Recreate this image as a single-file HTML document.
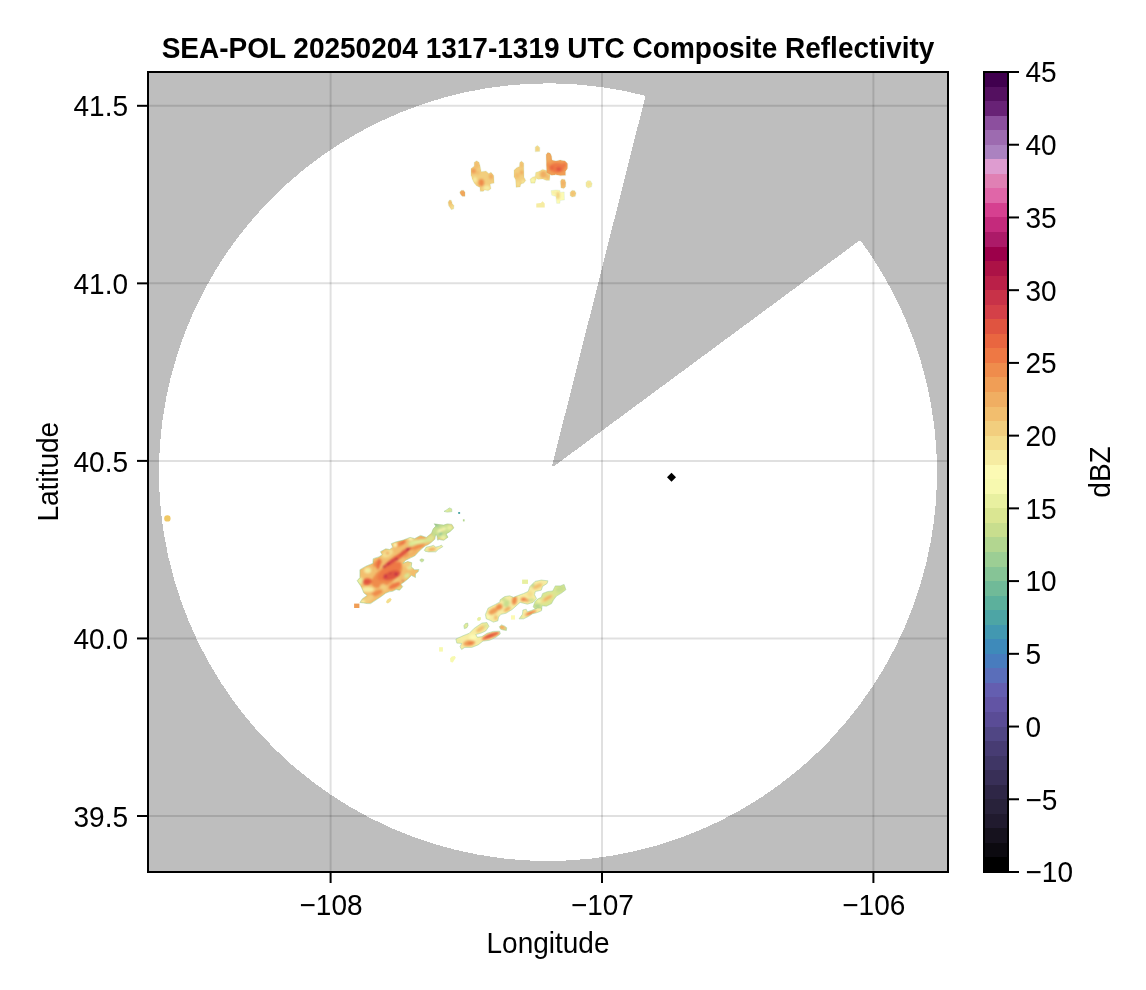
<!DOCTYPE html>
<html lang="en"><head><meta charset="utf-8">
<title>SEA-POL 20250204 1317-1319 UTC Composite Reflectivity</title>
<style>
html,body{margin:0;padding:0;background:#fff;}
body{width:1146px;height:990px;overflow:hidden;}
svg{display:block;}
text{font-family:"Liberation Sans", Arial, Helvetica, sans-serif;font-size:28px;fill:#000;}
.ttl{font-weight:bold;}
</style></head><body>
<svg width="1146" height="990" viewBox="0 0 1146 990">
<rect x="0" y="0" width="1146" height="990" fill="#FFFFFF"/>
<defs><clipPath id="axclip"><rect x="148" y="72" width="800" height="800"/></clipPath>
<filter id="b1" x="-30%" y="-30%" width="160%" height="160%"><feGaussianBlur stdDeviation="0.9"/></filter>
<filter id="b2" x="-30%" y="-30%" width="160%" height="160%"><feGaussianBlur stdDeviation="0.9"/></filter>
</defs>
<rect x="148" y="72" width="800" height="800" fill="#BEBEBE"/>
<g clip-path="url(#axclip)">
<path shape-rendering="crispEdges" fill="#FFFFFF" d="M860.09 240.12 A389 388.8 0 1 1 645.53 95.82 L552 466 L554.2 466 Z"/>
<g stroke="#000" stroke-opacity="0.12" stroke-width="2">
<line x1="330.6" y1="72" x2="330.6" y2="872"/>
<line x1="602" y1="72" x2="602" y2="872"/>
<line x1="873.4" y1="72" x2="873.4" y2="872"/>
<line x1="148" y1="105.8" x2="948" y2="105.8"/>
<line x1="148" y1="283.35" x2="948" y2="283.35"/>
<line x1="148" y1="460.9" x2="948" y2="460.9"/>
<line x1="148" y1="638.45" x2="948" y2="638.45"/>
<line x1="148" y1="816" x2="948" y2="816"/>
</g>
<g>
<clipPath id="e1"><polygon points="448.1,202 449.5,199.9 451.4,200.3 452.3,203.4 454,205.5 453.7,209 451.2,209.7 449.8,207.6 448.4,205.5"/></clipPath>
<g clip-path="url(#e1)">
<polygon points="448.1,202 449.5,199.9 451.4,200.3 452.3,203.4 454,205.5 453.7,209 451.2,209.7 449.8,207.6 448.4,205.5" fill="#F2CE7E"/>
<g filter="url(#b1)">
<ellipse cx="449.8" cy="202.7" rx="1.1" ry="1.4" fill="#F0AE62"/>
<ellipse cx="452.6" cy="207.6" rx="1.4" ry="1.4" fill="#F6ECA2"/>
</g></g>
<polygon points="448.1,202 449.5,199.9 451.4,200.3 452.3,203.4 454,205.5 453.7,209 451.2,209.7 449.8,207.6 448.4,205.5" fill="none" stroke="#9CCB8E" stroke-opacity="0.2" stroke-width="0.9" stroke-linejoin="round"/>
<clipPath id="e2"><polygon points="459.5,192.2 461.2,190.3 463.7,190.3 465.1,192.2 465.1,196.4 462.3,196.4 460.7,194.8"/></clipPath>
<g clip-path="url(#e2)">
<polygon points="459.5,192.2 461.2,190.3 463.7,190.3 465.1,192.2 465.1,196.4 462.3,196.4 460.7,194.8" fill="#F0AE62"/>
<g filter="url(#b1)">
<ellipse cx="463" cy="193.6" rx="1.4" ry="2" fill="#F09E56"/>
</g></g>
<polygon points="459.5,192.2 461.2,190.3 463.7,190.3 465.1,192.2 465.1,196.4 462.3,196.4 460.7,194.8" fill="none" stroke="#9CCB8E" stroke-opacity="0.2" stroke-width="0.9" stroke-linejoin="round"/>
<clipPath id="e3"><polygon points="471,168.5 474.2,166 474.2,162.2 476.6,160.7 479.1,162.2 480.5,167.1 481.2,171.6 486.1,171 488.9,173.4 491,172 493.8,175.5 494.2,183.2 490.3,184.1 491,188.8 488.2,190.8 484.7,190.1 483.3,191.5 480.2,191.5 479.8,187.4 476.6,186 474.2,183.2 472.4,179.7 471,175.5"/></clipPath>
<g clip-path="url(#e3)">
<polygon points="471,168.5 474.2,166 474.2,162.2 476.6,160.7 479.1,162.2 480.5,167.1 481.2,171.6 486.1,171 488.9,173.4 491,172 493.8,175.5 494.2,183.2 490.3,184.1 491,188.8 488.2,190.8 484.7,190.1 483.3,191.5 480.2,191.5 479.8,187.4 476.6,186 474.2,183.2 472.4,179.7 471,175.5" fill="#F2CE7E"/>
<g filter="url(#b1)">
<ellipse cx="476.6" cy="165" rx="2.5" ry="3.5" fill="#F2BE6E"/>
<ellipse cx="473.5" cy="171" rx="2.5" ry="2.8" fill="#F09E56"/>
<ellipse cx="477.7" cy="172.7" rx="2" ry="2" fill="#F2BE6E"/>
<ellipse cx="481.3" cy="182.7" rx="2.8" ry="3.6" fill="#EF8C4C"/>
<ellipse cx="491.1" cy="176.6" rx="2.2" ry="2.8" fill="#F0AE62"/>
<ellipse cx="486.8" cy="188.1" rx="3.5" ry="2.5" fill="#F6ECA2"/>
<ellipse cx="474.9" cy="179.7" rx="2" ry="2.8" fill="#F6ECA2"/>
</g></g>
<polygon points="471,168.5 474.2,166 474.2,162.2 476.6,160.7 479.1,162.2 480.5,167.1 481.2,171.6 486.1,171 488.9,173.4 491,172 493.8,175.5 494.2,183.2 490.3,184.1 491,188.8 488.2,190.8 484.7,190.1 483.3,191.5 480.2,191.5 479.8,187.4 476.6,186 474.2,183.2 472.4,179.7 471,175.5" fill="none" stroke="#9CCB8E" stroke-opacity="0.2" stroke-width="0.9" stroke-linejoin="round"/>
<clipPath id="e4"><polygon points="514,169.9 516.8,167.4 519.3,166.4 519.6,162.6 521.4,161 523.8,162.9 524,176.9 525.9,180.4 523.8,183.2 521,183.9 520.3,186.9 516.1,187.4 515.4,179.7 514,176.9"/></clipPath>
<g clip-path="url(#e4)">
<polygon points="514,169.9 516.8,167.4 519.3,166.4 519.6,162.6 521.4,161 523.8,162.9 524,176.9 525.9,180.4 523.8,183.2 521,183.9 520.3,186.9 516.1,187.4 515.4,179.7 514,176.9" fill="#F2CE7E"/>
<g filter="url(#b1)">
<ellipse cx="521.7" cy="165" rx="1.7" ry="2.8" fill="#F2BE6E"/>
<ellipse cx="521.7" cy="172.4" rx="2" ry="2.2" fill="#F0AE62"/>
<ellipse cx="517.1" cy="175.5" rx="2.5" ry="2.8" fill="#F2BE6E"/>
<ellipse cx="518.2" cy="183.9" rx="1.7" ry="2.8" fill="#F4DE8E"/>
<ellipse cx="523.1" cy="181.8" rx="1.7" ry="1.7" fill="#F6ECA2"/>
</g></g>
<polygon points="514,169.9 516.8,167.4 519.3,166.4 519.6,162.6 521.4,161 523.8,162.9 524,176.9 525.9,180.4 523.8,183.2 521,183.9 520.3,186.9 516.1,187.4 515.4,179.7 514,176.9" fill="none" stroke="#9CCB8E" stroke-opacity="0.2" stroke-width="0.9" stroke-linejoin="round"/>
<clipPath id="e5"><polygon points="535.2,146.9 537.5,145.3 539.8,147.6 539.8,151.5 535.2,151.8"/></clipPath>
<g clip-path="url(#e5)">
<polygon points="535.2,146.9 537.5,145.3 539.8,147.6 539.8,151.5 535.2,151.8" fill="#F4DE8E"/>
<g filter="url(#b1)">
<ellipse cx="537.5" cy="149" rx="1.7" ry="2" fill="#F2CE7E"/>
</g></g>
<polygon points="535.2,146.9 537.5,145.3 539.8,147.6 539.8,151.5 535.2,151.8" fill="none" stroke="#9CCB8E" stroke-opacity="0.2" stroke-width="0.9" stroke-linejoin="round"/>
<clipPath id="e6"><polygon points="530.1,179 532.8,176.9 535.2,176.2 535.6,172.4 539.1,171.3 542.6,169.2 546.8,170.6 550.3,172.7 549.6,180.4 546.1,180.4 542.6,179 538.4,179.4 536.3,178.6 534.9,183.2 530.8,183.2"/></clipPath>
<g clip-path="url(#e6)">
<polygon points="530.1,179 532.8,176.9 535.2,176.2 535.6,172.4 539.1,171.3 542.6,169.2 546.8,170.6 550.3,172.7 549.6,180.4 546.1,180.4 542.6,179 538.4,179.4 536.3,178.6 534.9,183.2 530.8,183.2" fill="#F4DE8E"/>
<g filter="url(#b1)">
<ellipse cx="543.3" cy="174.4" rx="3.4" ry="3.6" fill="#F0AE62"/>
<ellipse cx="537.7" cy="174.4" rx="2.2" ry="2.5" fill="#F4DE8E"/>
<ellipse cx="532.8" cy="180.4" rx="2.5" ry="2.5" fill="#F7F9AF"/>
<ellipse cx="547.8" cy="176.9" rx="2" ry="3.1" fill="#F2BE6E"/>
</g></g>
<polygon points="530.1,179 532.8,176.9 535.2,176.2 535.6,172.4 539.1,171.3 542.6,169.2 546.8,170.6 550.3,172.7 549.6,180.4 546.1,180.4 542.6,179 538.4,179.4 536.3,178.6 534.9,183.2 530.8,183.2" fill="none" stroke="#9CCB8E" stroke-opacity="0.2" stroke-width="0.9" stroke-linejoin="round"/>
<clipPath id="e7"><polygon points="546.1,154.5 547.8,152.3 550.3,153.2 551.7,155.9 552,159.9 555.9,160.8 560.1,160.1 565,160.8 567.7,163.6 567.7,168.5 565.7,171.3 565.7,175.5 560.1,175.8 555.9,174.8 551.7,175.5 546.4,172.7"/></clipPath>
<g clip-path="url(#e7)">
<polygon points="546.1,154.5 547.8,152.3 550.3,153.2 551.7,155.9 552,159.9 555.9,160.8 560.1,160.1 565,160.8 567.7,163.6 567.7,168.5 565.7,171.3 565.7,175.5 560.1,175.8 555.9,174.8 551.7,175.5 546.4,172.7" fill="#F09E56"/>
<g filter="url(#b1)">
<ellipse cx="548.6" cy="157.3" rx="2" ry="4.2" fill="#F0AE62"/>
<ellipse cx="557" cy="167.8" rx="7.7" ry="5" fill="#EE7844"/>
<ellipse cx="558.7" cy="169.2" rx="2.5" ry="2.1" fill="#E05440"/>
<ellipse cx="551.7" cy="167.8" rx="2.2" ry="2" fill="#E96640"/>
<ellipse cx="564.3" cy="165" rx="2.2" ry="2.5" fill="#EE7844"/>
<ellipse cx="548.2" cy="165" rx="1.4" ry="2" fill="#EF8C4C"/>
</g></g>
<polygon points="546.1,154.5 547.8,152.3 550.3,153.2 551.7,155.9 552,159.9 555.9,160.8 560.1,160.1 565,160.8 567.7,163.6 567.7,168.5 565.7,171.3 565.7,175.5 560.1,175.8 555.9,174.8 551.7,175.5 546.4,172.7" fill="none" stroke="#9CCB8E" stroke-opacity="0.2" stroke-width="0.9" stroke-linejoin="round"/>
<clipPath id="e8"><polygon points="560.3,181.1 561.7,179.1 565,179.4 565.9,182.5 565.7,186.9 563.6,188.8 560.8,187.8"/></clipPath>
<g clip-path="url(#e8)">
<polygon points="560.3,181.1 561.7,179.1 565,179.4 565.9,182.5 565.7,186.9 563.6,188.8 560.8,187.8" fill="#F2BE6E"/>
<g filter="url(#b1)">
<ellipse cx="563.1" cy="183.2" rx="1.7" ry="2.2" fill="#F0AE62"/>
</g></g>
<polygon points="560.3,181.1 561.7,179.1 565,179.4 565.9,182.5 565.7,186.9 563.6,188.8 560.8,187.8" fill="none" stroke="#9CCB8E" stroke-opacity="0.2" stroke-width="0.9" stroke-linejoin="round"/>
<clipPath id="e9"><polygon points="551,190.6 555.9,190 559.8,190.3 560.3,192.2 564.3,192 564.5,199.9 560.3,200.6 559.8,203.4 556.6,203.4 555.9,196.4 551.7,195.3"/></clipPath>
<g clip-path="url(#e9)">
<polygon points="551,190.6 555.9,190 559.8,190.3 560.3,192.2 564.3,192 564.5,199.9 560.3,200.6 559.8,203.4 556.6,203.4 555.9,196.4 551.7,195.3" fill="#FCFAB4"/>
<g filter="url(#b1)">
<ellipse cx="558" cy="195.3" rx="1.7" ry="3.9" fill="#F2CE7E"/>
<ellipse cx="553.8" cy="192.5" rx="2" ry="1.4" fill="#F6ECA2"/>
</g></g>
<polygon points="551,190.6 555.9,190 559.8,190.3 560.3,192.2 564.3,192 564.5,199.9 560.3,200.6 559.8,203.4 556.6,203.4 555.9,196.4 551.7,195.3" fill="none" stroke="#9CCB8E" stroke-opacity="0.2" stroke-width="0.9" stroke-linejoin="round"/>
<clipPath id="e10"><polygon points="570.1,192.2 571.9,190.3 574.7,190.6 576.1,192.9 575.4,196.4 571.9,197.1 570.1,195.7"/></clipPath>
<g clip-path="url(#e10)">
<polygon points="570.1,192.2 571.9,190.3 574.7,190.6 576.1,192.9 575.4,196.4 571.9,197.1 570.1,195.7" fill="#F2CE7E"/>
<g filter="url(#b1)">
<ellipse cx="572.9" cy="193.6" rx="1.7" ry="2" fill="#F2BE6E"/>
</g></g>
<polygon points="570.1,192.2 571.9,190.3 574.7,190.6 576.1,192.9 575.4,196.4 571.9,197.1 570.1,195.7" fill="none" stroke="#9CCB8E" stroke-opacity="0.2" stroke-width="0.9" stroke-linejoin="round"/>
<clipPath id="e11"><polygon points="585.9,182.5 587.7,180.4 590.5,180.8 592.2,183.6 591.5,186.9 588,188.1 586,186.4"/></clipPath>
<g clip-path="url(#e11)">
<polygon points="585.9,182.5 587.7,180.4 590.5,180.8 592.2,183.6 591.5,186.9 588,188.1 586,186.4" fill="#F6ECA2"/>
<g filter="url(#b1)">
<ellipse cx="589.1" cy="184.1" rx="1.7" ry="2" fill="#F4DE8E"/>
</g></g>
<polygon points="585.9,182.5 587.7,180.4 590.5,180.8 592.2,183.6 591.5,186.9 588,188.1 586,186.4" fill="none" stroke="#9CCB8E" stroke-opacity="0.2" stroke-width="0.9" stroke-linejoin="round"/>
<polygon points="536.3,203.4 540.8,203.1 542.6,201.3 544.7,203.4 544.7,207.6 536.3,207.6" fill="#F6ECA2"/>
<rect x="354.1" y="603.6" width="5.3" height="4.4" fill="#F09E56"/>
<clipPath id="e12"><polygon points="359.9,602.5 362.4,598.7 367.1,595.5 363.8,592.9 362.4,589.5 360.7,586 357.2,580.7 359.9,577.6 359.9,569.7 365.9,566.2 372.9,563.3 373.2,558.7 378.7,556.9 382.2,554.8 380.4,551.7 385.7,548.8 389.7,549.5 392.6,547.2 391.2,543.7 396.1,541.8 403.1,540.1 410.1,537.4 414.7,538.6 420.5,535.4 426.3,537.4 431.6,533.1 433.1,529 435.8,526.1 434.2,523.8 439.1,524.6 443.7,525.1 447.2,523.9 451.9,524.4 453.9,527.9 450.1,531.6 446.1,533.9 448,537.2 443.7,540.3 439.3,539.5 437.6,540.1 437,535.5 435.6,534.7 434.8,539.3 431.2,542.5 428.6,544.4 425.2,546 421.7,548.8 418.2,552.3 414.7,556 410.1,558.1 405.4,560.4 402.9,563.3 407.7,561.6 411.8,562.7 411.2,566.8 414.7,569.7 418.9,569.5 418.4,571.6 415.5,573.9 415.5,577.6 411.5,575.5 407.7,579.2 404.2,582 401,584.3 402.7,586.7 399.6,590.2 396.1,589.5 392.6,591.3 389.1,591.8 385.7,593.2 381,596.7 377.5,599 374,601.3 370.6,603.6 367.1,603.6 363.6,602.9"/></clipPath>
<g clip-path="url(#e12)">
<polygon points="359.9,602.5 362.4,598.7 367.1,595.5 363.8,592.9 362.4,589.5 360.7,586 357.2,580.7 359.9,577.6 359.9,569.7 365.9,566.2 372.9,563.3 373.2,558.7 378.7,556.9 382.2,554.8 380.4,551.7 385.7,548.8 389.7,549.5 392.6,547.2 391.2,543.7 396.1,541.8 403.1,540.1 410.1,537.4 414.7,538.6 420.5,535.4 426.3,537.4 431.6,533.1 433.1,529 435.8,526.1 434.2,523.8 439.1,524.6 443.7,525.1 447.2,523.9 451.9,524.4 453.9,527.9 450.1,531.6 446.1,533.9 448,537.2 443.7,540.3 439.3,539.5 437.6,540.1 437,535.5 435.6,534.7 434.8,539.3 431.2,542.5 428.6,544.4 425.2,546 421.7,548.8 418.2,552.3 414.7,556 410.1,558.1 405.4,560.4 402.9,563.3 407.7,561.6 411.8,562.7 411.2,566.8 414.7,569.7 418.9,569.5 418.4,571.6 415.5,573.9 415.5,577.6 411.5,575.5 407.7,579.2 404.2,582 401,584.3 402.7,586.7 399.6,590.2 396.1,589.5 392.6,591.3 389.1,591.8 385.7,593.2 381,596.7 377.5,599 374,601.3 370.6,603.6 367.1,603.6 363.6,602.9" fill="#F2BE6E"/>
<g filter="url(#b2)">
<ellipse cx="400.8" cy="543.2" rx="5.6" ry="1.4" transform="rotate(-30 400.8 543.2)" fill="#EE7844"/>
<ellipse cx="395.8" cy="548.8" rx="1.9" ry="4.9" transform="rotate(15 395.8 548.8)" fill="#F4DE8E"/>
<ellipse cx="413.5" cy="551.1" rx="7" ry="2.3" transform="rotate(-38 413.5 551.1)" fill="#F2BE6E"/>
<ellipse cx="419.4" cy="545.9" rx="3.5" ry="1.4" transform="rotate(-35 419.4 545.9)" fill="#EF8C4C"/>
<ellipse cx="416.4" cy="542.4" rx="7.6" ry="1.9" transform="rotate(-25 416.4 542.4)" fill="#DAE692"/>
<ellipse cx="429.2" cy="539.5" rx="3.3" ry="1.9" transform="rotate(-40 429.2 539.5)" fill="#C8DE8E"/>
<ellipse cx="424" cy="537.4" rx="2.6" ry="1.2" transform="rotate(-20 424 537.4)" fill="#F09E56"/>
<ellipse cx="410.1" cy="565.1" rx="3.3" ry="4.6" transform="rotate(20 410.1 565.1)" fill="#F6ECA2"/>
<ellipse cx="407.7" cy="549.7" rx="4.6" ry="1.6" transform="rotate(-34 407.7 549.7)" fill="#E05440"/>
<ellipse cx="407.7" cy="549.7" rx="1.6" ry="1.2" transform="rotate(-34 407.7 549.7)" fill="#BA2048"/>
<ellipse cx="442.6" cy="530.8" rx="11.6" ry="8.1" fill="#C8DE8E"/>
<ellipse cx="437.9" cy="526.7" rx="3.5" ry="2.3" fill="#9CCE94"/>
<ellipse cx="446.1" cy="536" rx="2.8" ry="1.6" fill="#B2D690"/>
<ellipse cx="441.4" cy="529.3" rx="5.2" ry="2.1" transform="rotate(-25 441.4 529.3)" fill="#F6ECA2"/>
<ellipse cx="436.8" cy="525.1" rx="1.9" ry="1.2" fill="#86C496"/>
<ellipse cx="440.5" cy="534.9" rx="1.4" ry="2.3" fill="#9CCE94"/>
<ellipse cx="450.1" cy="527.3" rx="2.6" ry="2.6" fill="#F7F9AF"/>
<ellipse cx="433.9" cy="533.1" rx="2.1" ry="3.5" transform="rotate(20 433.9 533.1)" fill="#B2D690"/>
<ellipse cx="443.7" cy="538.9" rx="2.6" ry="1.4" fill="#E8F0A0"/>
<ellipse cx="386.8" cy="575.4" rx="17.7" ry="8.5" transform="rotate(-35 386.8 575.4)" fill="#EF8C4C"/>
<ellipse cx="389.6" cy="571.1" rx="14.1" ry="5.7" transform="rotate(-35 389.6 571.1)" fill="#EE7844"/>
<ellipse cx="359.9" cy="581" rx="3.2" ry="3.5" fill="#E8F0A0"/>
<ellipse cx="367.7" cy="570.4" rx="3.5" ry="2.8" fill="#F6ECA2"/>
<ellipse cx="369.2" cy="570.3" rx="1.6" ry="1.3" fill="#E8F0A0"/>
<ellipse cx="362" cy="571.8" rx="2.1" ry="2.1" fill="#F2BE6E"/>
<ellipse cx="367.7" cy="589.5" rx="6.4" ry="2.8" fill="#F6ECA2"/>
<ellipse cx="367.3" cy="581.7" rx="4.9" ry="3.5" transform="rotate(-10 367.3 581.7)" fill="#E96640"/>
<ellipse cx="367" cy="581.7" rx="2.8" ry="2.1" fill="#E05440"/>
<ellipse cx="377.6" cy="563.3" rx="4.9" ry="2.8" transform="rotate(-35 377.6 563.3)" fill="#EF8C4C"/>
<ellipse cx="378.6" cy="564" rx="1.6" ry="5.7" transform="rotate(10 378.6 564)" fill="#E96640"/>
<ellipse cx="387.5" cy="553.4" rx="6.4" ry="3.5" transform="rotate(-30 387.5 553.4)" fill="#F4DE8E"/>
<ellipse cx="387.5" cy="553.1" rx="1.6" ry="1.4" fill="#F09E56"/>
<ellipse cx="396" cy="549.9" rx="3.5" ry="3.5" fill="#F2BE6E"/>
<ellipse cx="396" cy="558.5" rx="16.3" ry="2.5" transform="rotate(-35 396 558.5)" fill="#E96640"/>
<ellipse cx="390.3" cy="562.8" rx="8.5" ry="1.3" transform="rotate(-35 390.3 562.8)" fill="#D44048"/>
<ellipse cx="383.9" cy="566.9" rx="1.1" ry="1" fill="#AC1246"/>
<ellipse cx="388.5" cy="563.7" rx="1.1" ry="1" fill="#AC1246"/>
<ellipse cx="392.4" cy="561.2" rx="1" ry="0.7" transform="rotate(-35 392.4 561.2)" fill="#C83248"/>
<ellipse cx="396.7" cy="558.9" rx="1.3" ry="1" fill="#AC1246"/>
<ellipse cx="408" cy="549.2" rx="1.4" ry="1.1" fill="#AC1246"/>
<ellipse cx="402.7" cy="553.4" rx="4.2" ry="0.8" transform="rotate(-35 402.7 553.4)" fill="#D44048"/>
<ellipse cx="391.7" cy="575.4" rx="9.2" ry="4.2" transform="rotate(-20 391.7 575.4)" fill="#E05440"/>
<ellipse cx="396" cy="574.1" rx="1.4" ry="1.2" fill="#AC1246"/>
<ellipse cx="390.3" cy="573.2" rx="1" ry="0.8" fill="#BA2048"/>
<ellipse cx="385.4" cy="576.1" rx="1.6" ry="1.8" transform="rotate(20 385.4 576.1)" fill="#C83248"/>
<ellipse cx="403" cy="581" rx="0.8" ry="0.7" fill="#AC1246"/>
<ellipse cx="383.2" cy="587.4" rx="3.5" ry="3.5" fill="#F2CE7E"/>
<ellipse cx="396" cy="580.3" rx="3.5" ry="1.4" transform="rotate(-35 396 580.3)" fill="#F2CE7E"/>
<ellipse cx="394.5" cy="585.6" rx="6.4" ry="2.5" transform="rotate(-25 394.5 585.6)" fill="#EE7844"/>
<ellipse cx="399.5" cy="588.8" rx="3.2" ry="1.1" transform="rotate(-20 399.5 588.8)" fill="#DAE692"/>
<ellipse cx="406.9" cy="575.7" rx="3.2" ry="2.1" transform="rotate(-35 406.9 575.7)" fill="#DAE692"/>
<ellipse cx="410.1" cy="566.2" rx="2.1" ry="2" fill="#F7F9AF"/>
<ellipse cx="408.7" cy="561.2" rx="2.8" ry="2.1" fill="#F2CE7E"/>
<ellipse cx="413.6" cy="572.5" rx="1.7" ry="1.4" fill="#F2BE6E"/>
<ellipse cx="376.9" cy="593" rx="6.4" ry="2.5" transform="rotate(-25 376.9 593)" fill="#EF8C4C"/>
<ellipse cx="367.7" cy="599.4" rx="7.1" ry="2.8" transform="rotate(-35 367.7 599.4)" fill="#F2CE7E"/>
<ellipse cx="362.7" cy="601.5" rx="2.1" ry="1.4" fill="#F7F9AF"/>
<ellipse cx="399.5" cy="544.2" rx="5.7" ry="2.1" transform="rotate(-25 399.5 544.2)" fill="#EF8C4C"/>
<ellipse cx="403" cy="542.8" rx="2.8" ry="1" transform="rotate(-25 403 542.8)" fill="#E96640"/>
<ellipse cx="395.3" cy="544.9" rx="2.1" ry="2.1" fill="#FCFAB4"/>
<ellipse cx="413.6" cy="543.5" rx="5.7" ry="1.6" transform="rotate(-25 413.6 543.5)" fill="#DAE692"/>
<ellipse cx="406.6" cy="555.6" rx="3.5" ry="1.4" transform="rotate(-35 406.6 555.6)" fill="#F09E56"/>
<ellipse cx="413.6" cy="552.7" rx="4.2" ry="1.4" transform="rotate(-35 413.6 552.7)" fill="#F0AE62"/>
<ellipse cx="417.7" cy="546.7" rx="7.8" ry="2.1" transform="rotate(-20 417.7 546.7)" fill="#EF8C4C"/>
<ellipse cx="404.2" cy="552.3" rx="4.2" ry="2.1" transform="rotate(-35 404.2 552.3)" fill="#E05440"/>
<ellipse cx="407.8" cy="549.5" rx="1.6" ry="1.1" fill="#AC1246"/>
<ellipse cx="420.5" cy="541.4" rx="12.7" ry="2.3" transform="rotate(-8 420.5 541.4)" fill="#DAE692"/>
<ellipse cx="417.7" cy="541.9" rx="7.1" ry="1" transform="rotate(-8 417.7 541.9)" fill="#E8F0A0"/>
<ellipse cx="420.5" cy="538" rx="4.2" ry="1.1" transform="rotate(-10 420.5 538)" fill="#F09E56"/>
<ellipse cx="410.6" cy="538.7" rx="2.8" ry="1.7" fill="#FCFAB4"/>
<ellipse cx="430.4" cy="538.5" rx="4.2" ry="3.2" transform="rotate(-40 430.4 538.5)" fill="#DAE692"/>
<ellipse cx="431.1" cy="536.8" rx="0.7" ry="1" fill="#F2CE7E"/>
<ellipse cx="442.4" cy="529.7" rx="10.6" ry="6.4" transform="rotate(-15 442.4 529.7)" fill="#C8DE8E"/>
<ellipse cx="441.7" cy="530.1" rx="4.9" ry="1.4" transform="rotate(-25 441.7 530.1)" fill="#FCFAB4"/>
<ellipse cx="442.4" cy="530.3" rx="1.3" ry="0.6" transform="rotate(-20 442.4 530.3)" fill="#F2CE7E"/>
<ellipse cx="437.1" cy="525.6" rx="2.8" ry="1.4" fill="#9CCE94"/>
<ellipse cx="435.4" cy="524" rx="1.4" ry="1" fill="#5CB09C"/>
<ellipse cx="440.7" cy="534.1" rx="1.8" ry="1.8" fill="#86C496"/>
<ellipse cx="449.5" cy="527.7" rx="2.5" ry="2.5" fill="#E8F0A0"/>
<ellipse cx="443.1" cy="537.1" rx="3.2" ry="2.1" fill="#E8F0A0"/>
<ellipse cx="407.1" cy="563.6" rx="4.2" ry="3.5" fill="#F2CE7E"/>
<ellipse cx="409.9" cy="567.5" rx="1.4" ry="2.1" fill="#DAE692"/>
</g></g>
<polygon points="359.9,602.5 362.4,598.7 367.1,595.5 363.8,592.9 362.4,589.5 360.7,586 357.2,580.7 359.9,577.6 359.9,569.7 365.9,566.2 372.9,563.3 373.2,558.7 378.7,556.9 382.2,554.8 380.4,551.7 385.7,548.8 389.7,549.5 392.6,547.2 391.2,543.7 396.1,541.8 403.1,540.1 410.1,537.4 414.7,538.6 420.5,535.4 426.3,537.4 431.6,533.1 433.1,529 435.8,526.1 434.2,523.8 439.1,524.6 443.7,525.1 447.2,523.9 451.9,524.4 453.9,527.9 450.1,531.6 446.1,533.9 448,537.2 443.7,540.3 439.3,539.5 437.6,540.1 437,535.5 435.6,534.7 434.8,539.3 431.2,542.5 428.6,544.4 425.2,546 421.7,548.8 418.2,552.3 414.7,556 410.1,558.1 405.4,560.4 402.9,563.3 407.7,561.6 411.8,562.7 411.2,566.8 414.7,569.7 418.9,569.5 418.4,571.6 415.5,573.9 415.5,577.6 411.5,575.5 407.7,579.2 404.2,582 401,584.3 402.7,586.7 399.6,590.2 396.1,589.5 392.6,591.3 389.1,591.8 385.7,593.2 381,596.7 377.5,599 374,601.3 370.6,603.6 367.1,603.6 363.6,602.9" fill="none" stroke="#9CCB8E" stroke-opacity="0.6" stroke-width="0.9" stroke-linejoin="round"/>
<clipPath id="e13"><polygon points="444,511.4 447.2,509.5 449.3,507.9 451.6,508.8 451.9,511.6 447.2,512.1"/></clipPath>
<g clip-path="url(#e13)">
<polygon points="444,511.4 447.2,509.5 449.3,507.9 451.6,508.8 451.9,511.6 447.2,512.1" fill="#E8F0A0"/>
<g filter="url(#b1)">
<ellipse cx="449.6" cy="510.2" rx="1.6" ry="1.2" fill="#C8DE8E"/>
</g></g>
<polygon points="444,511.4 447.2,509.5 449.3,507.9 451.6,508.8 451.9,511.6 447.2,512.1" fill="none" stroke="#9CCB8E" stroke-opacity="0.6" stroke-width="0.9" stroke-linejoin="round"/>
<rect x="458.2" y="512" width="1.9" height="1.9" fill="#4DA5A5"/>
<rect x="462.9" y="519.3" width="1.7" height="2.1" fill="#B2D690"/>
<clipPath id="e14"><polygon points="424.3,550.2 426.3,547.1 431,546.2 433.3,545.3 435.8,547.1 439.3,546.2 441.4,545.1 442.8,546.7 438.5,549.3 435.8,551.8 428.6,551.9 425.2,551.3"/></clipPath>
<g clip-path="url(#e14)">
<polygon points="424.3,550.2 426.3,547.1 431,546.2 433.3,545.3 435.8,547.1 439.3,546.2 441.4,545.1 442.8,546.7 438.5,549.3 435.8,551.8 428.6,551.9 425.2,551.3" fill="#F6ECA2"/>
<g filter="url(#b1)">
<ellipse cx="432.1" cy="549.4" rx="3.9" ry="1.6" transform="rotate(-8 432.1 549.4)" fill="#F0AE62"/>
<ellipse cx="425.7" cy="550.2" rx="1.2" ry="1.2" fill="#DAE692"/>
</g></g>
<polygon points="424.3,550.2 426.3,547.1 431,546.2 433.3,545.3 435.8,547.1 439.3,546.2 441.4,545.1 442.8,546.7 438.5,549.3 435.8,551.8 428.6,551.9 425.2,551.3" fill="none" stroke="#9CCB8E" stroke-opacity="0.6" stroke-width="0.9" stroke-linejoin="round"/>
<clipPath id="e15"><polygon points="419.9,559.7 421.7,558.8 423.8,559.5 423.5,561.1 421.9,562 420.3,561.1"/></clipPath>
<g clip-path="url(#e15)">
<polygon points="419.9,559.7 421.7,558.8 423.8,559.5 423.5,561.1 421.9,562 420.3,561.1" fill="#C8DE8E"/>
<g filter="url(#b1)">
<ellipse cx="421.9" cy="560.3" rx="0.7" ry="0.6" fill="#FCFAB4"/>
</g></g>
<polygon points="419.9,559.7 421.7,558.8 423.8,559.5 423.5,561.1 421.9,562 420.3,561.1" fill="none" stroke="#9CCB8E" stroke-opacity="0.6" stroke-width="0.9" stroke-linejoin="round"/>
<polygon points="385.9,602.2 387.1,599.7 390.1,597.8 391.7,599.4 390.3,601.8 387.8,603.6" fill="#F4DE8E"/>
<rect x="439.1" y="647.2" width="3.8" height="4.4" fill="#F7F9AF"/>
<polygon points="450,658.6 451.8,656.5 454.8,656 455.8,657.8 454,660.5 452.8,662.4 450.5,662.1" fill="#F7F9AF"/>
<clipPath id="e16"><polygon points="455.9,639 462.9,635.8 469.2,633.3 474.3,628.2 481.9,623.1 486.9,622.5 489,626.3 485.7,631 480.6,633.3 475.8,634.5 477.4,637.3 481.9,636.6 486.9,633.3 493.3,631.4 499.6,631.2 500.3,634 495.8,637.3 489.5,640.3 483.1,641.1 478.1,644.9 471.8,647.4 464.8,647.4 461.6,649.5 460.1,646.7 461.6,643.4 456.8,643.1"/></clipPath>
<g clip-path="url(#e16)">
<polygon points="455.9,639 462.9,635.8 469.2,633.3 474.3,628.2 481.9,623.1 486.9,622.5 489,626.3 485.7,631 480.6,633.3 475.8,634.5 477.4,637.3 481.9,636.6 486.9,633.3 493.3,631.4 499.6,631.2 500.3,634 495.8,637.3 489.5,640.3 483.1,641.1 478.1,644.9 471.8,647.4 464.8,647.4 461.6,649.5 460.1,646.7 461.6,643.4 456.8,643.1" fill="#F6ECA2"/>
<g filter="url(#b1)">
<ellipse cx="469.2" cy="643.1" rx="6.1" ry="2.8" transform="rotate(-10 469.2 643.1)" fill="#F09E56"/>
<ellipse cx="470.5" cy="643.4" rx="2.8" ry="1.4" fill="#EE7844"/>
<ellipse cx="490.7" cy="635.8" rx="9.5" ry="2.2" transform="rotate(-22 490.7 635.8)" fill="#E96640"/>
<ellipse cx="489.5" cy="635.5" rx="3.8" ry="1.3" transform="rotate(-22 489.5 635.5)" fill="#E05440"/>
<ellipse cx="480.6" cy="628.8" rx="5.1" ry="2" transform="rotate(-35 480.6 628.8)" fill="#F2BE6E"/>
<ellipse cx="473" cy="637.1" rx="3.8" ry="2.8" fill="#FCFAB4"/>
<ellipse cx="458.8" cy="640.9" rx="2" ry="1.8" fill="#E8F0A0"/>
<ellipse cx="485.7" cy="625.7" rx="2.3" ry="2" fill="#DAE692"/>
</g></g>
<polygon points="455.9,639 462.9,635.8 469.2,633.3 474.3,628.2 481.9,623.1 486.9,622.5 489,626.3 485.7,631 480.6,633.3 475.8,634.5 477.4,637.3 481.9,636.6 486.9,633.3 493.3,631.4 499.6,631.2 500.3,634 495.8,637.3 489.5,640.3 483.1,641.1 478.1,644.9 471.8,647.4 464.8,647.4 461.6,649.5 460.1,646.7 461.6,643.4 456.8,643.1" fill="none" stroke="#9CCB8E" stroke-opacity="0.6" stroke-width="0.9" stroke-linejoin="round"/>
<clipPath id="e17"><polygon points="499.3,626.7 501.6,624.9 504.7,626.2 506.7,627.7 506.4,630.5 503.4,630 500.6,629.2"/></clipPath>
<g clip-path="url(#e17)">
<polygon points="499.3,626.7 501.6,624.9 504.7,626.2 506.7,627.7 506.4,630.5 503.4,630 500.6,629.2" fill="#F2CE7E"/>
<g filter="url(#b1)">
<ellipse cx="502.1" cy="627.2" rx="2" ry="1.5" fill="#F09E56"/>
<ellipse cx="505.7" cy="629.2" rx="1" ry="1.3" fill="#B2D690"/>
</g></g>
<polygon points="499.3,626.7 501.6,624.9 504.7,626.2 506.7,627.7 506.4,630.5 503.4,630 500.6,629.2" fill="none" stroke="#9CCB8E" stroke-opacity="0.6" stroke-width="0.9" stroke-linejoin="round"/>
<clipPath id="e18"><polygon points="463.9,625.7 465.4,623.6 467.7,623.1 468,625.7 466.7,627.9 464.4,628.7"/></clipPath>
<g clip-path="url(#e18)">
<polygon points="463.9,625.7 465.4,623.6 467.7,623.1 468,625.7 466.7,627.9 464.4,628.7" fill="#DAE692"/>
<g filter="url(#b1)">
<ellipse cx="466.1" cy="625.9" rx="0.9" ry="1.3" fill="#FCFAB4"/>
</g></g>
<polygon points="463.9,625.7 465.4,623.6 467.7,623.1 468,625.7 466.7,627.9 464.4,628.7" fill="none" stroke="#9CCB8E" stroke-opacity="0.6" stroke-width="0.9" stroke-linejoin="round"/>
<polygon points="477.1,618.6 478.6,617.1 480.9,617.3 480.9,619.6 479.3,620.9 477.3,620.6" fill="#E8F0A0"/>
<clipPath id="e19"><polygon points="485.4,614.5 488.2,608 495.8,604.2 500,601.9 500,599.9 504.7,596.6 509.7,595.8 513.5,597.3 517.3,595.8 523.6,593.5 528.1,591.5 530,586.4 535,581.4 541.3,580.1 547.9,580.8 547.2,583.4 542.6,586.4 541.3,590.2 535.3,591.5 534.5,594.8 536.5,598.6 533.1,602.4 527.4,604.2 520.1,602.4 517.3,604.9 512.2,609.5 505.9,613.3 500.9,614.3 498.6,617.1 497.8,620.9 493.3,622.1 489.5,620.1 486.3,618.8"/></clipPath>
<g clip-path="url(#e19)">
<polygon points="485.4,614.5 488.2,608 495.8,604.2 500,601.9 500,599.9 504.7,596.6 509.7,595.8 513.5,597.3 517.3,595.8 523.6,593.5 528.1,591.5 530,586.4 535,581.4 541.3,580.1 547.9,580.8 547.2,583.4 542.6,586.4 541.3,590.2 535.3,591.5 534.5,594.8 536.5,598.6 533.1,602.4 527.4,604.2 520.1,602.4 517.3,604.9 512.2,609.5 505.9,613.3 500.9,614.3 498.6,617.1 497.8,620.9 493.3,622.1 489.5,620.1 486.3,618.8" fill="#F6ECA2"/>
<g filter="url(#b1)">
<ellipse cx="493.3" cy="611.1" rx="5.3" ry="2.8" transform="rotate(-30 493.3 611.1)" fill="#F09E56"/>
<ellipse cx="499.3" cy="606.9" rx="3.3" ry="2.8" transform="rotate(-30 499.3 606.9)" fill="#EF8C4C"/>
<ellipse cx="514.5" cy="600.4" rx="2.5" ry="4.3" transform="rotate(10 514.5 600.4)" fill="#EF8C4C"/>
<ellipse cx="523.6" cy="599.4" rx="3" ry="1.8" fill="#EF8C4C"/>
<ellipse cx="523.4" cy="599.1" rx="1.3" ry="0.9" fill="#E96640"/>
<ellipse cx="527.4" cy="600.4" rx="2" ry="1.3" fill="#F09E56"/>
<ellipse cx="537.5" cy="586.2" rx="5.1" ry="2" transform="rotate(-25 537.5 586.2)" fill="#F2BE6E"/>
<ellipse cx="506.5" cy="603.5" rx="3" ry="3.8" transform="rotate(20 506.5 603.5)" fill="#C8DE8E"/>
<ellipse cx="507.2" cy="609.2" rx="3.8" ry="1.8" transform="rotate(-30 507.2 609.2)" fill="#F0AE62"/>
<ellipse cx="495.8" cy="617.4" rx="1.8" ry="2.5" fill="#F2BE6E"/>
<ellipse cx="530" cy="594" rx="2.8" ry="3.3" fill="#F4DE8E"/>
<ellipse cx="488.2" cy="616.8" rx="2" ry="2.3" fill="#FCFAB4"/>
<ellipse cx="503.4" cy="599.1" rx="2.5" ry="1.8" fill="#C8DE8E"/>
<ellipse cx="532.7" cy="585.2" rx="1.3" ry="2.3" transform="rotate(30 532.7 585.2)" fill="#B2D690"/>
<ellipse cx="531.2" cy="600.1" rx="3" ry="1.3" fill="#C8DE8E"/>
</g></g>
<polygon points="485.4,614.5 488.2,608 495.8,604.2 500,601.9 500,599.9 504.7,596.6 509.7,595.8 513.5,597.3 517.3,595.8 523.6,593.5 528.1,591.5 530,586.4 535,581.4 541.3,580.1 547.9,580.8 547.2,583.4 542.6,586.4 541.3,590.2 535.3,591.5 534.5,594.8 536.5,598.6 533.1,602.4 527.4,604.2 520.1,602.4 517.3,604.9 512.2,609.5 505.9,613.3 500.9,614.3 498.6,617.1 497.8,620.9 493.3,622.1 489.5,620.1 486.3,618.8" fill="none" stroke="#9CCB8E" stroke-opacity="0.6" stroke-width="0.9" stroke-linejoin="round"/>
<rect x="511" y="615.3" width="4" height="4.3" fill="#FCFAB4"/>
<rect x="522.1" y="579.6" width="5.9" height="4.3" fill="#E8F0A0"/>
<clipPath id="e20"><polygon points="533.1,606.9 535,601.6 537.5,599.1 541.3,597.3 542.6,593.5 547.7,591.5 552.7,591 555.3,585.9 560.3,585.9 564.1,584.4 565.9,589.7 561.6,593 556.5,596.1 553.5,599.9 551.5,603.7 546.4,606.2 542,605.7 541.6,609.5 538.8,611.2 535,608.7"/></clipPath>
<g clip-path="url(#e20)">
<polygon points="533.1,606.9 535,601.6 537.5,599.1 541.3,597.3 542.6,593.5 547.7,591.5 552.7,591 555.3,585.9 560.3,585.9 564.1,584.4 565.9,589.7 561.6,593 556.5,596.1 553.5,599.9 551.5,603.7 546.4,606.2 542,605.7 541.6,609.5 538.8,611.2 535,608.7" fill="#DAE692"/>
<g filter="url(#b1)">
<ellipse cx="547" cy="598.5" rx="7.6" ry="2.5" transform="rotate(-32 547 598.5)" fill="#F4DE8E"/>
<ellipse cx="547.7" cy="598.1" rx="5.1" ry="1.5" transform="rotate(-32 547.7 598.1)" fill="#F0AE62"/>
<ellipse cx="537.5" cy="606.1" rx="3.3" ry="2" fill="#B2D690"/>
<ellipse cx="560.3" cy="589" rx="4.6" ry="2.8" transform="rotate(-25 560.3 589)" fill="#C8DE8E"/>
<ellipse cx="538.8" cy="601" rx="1.8" ry="1.8" fill="#F7F9AF"/>
</g></g>
<polygon points="533.1,606.9 535,601.6 537.5,599.1 541.3,597.3 542.6,593.5 547.7,591.5 552.7,591 555.3,585.9 560.3,585.9 564.1,584.4 565.9,589.7 561.6,593 556.5,596.1 553.5,599.9 551.5,603.7 546.4,606.2 542,605.7 541.6,609.5 538.8,611.2 535,608.7" fill="none" stroke="#9CCB8E" stroke-opacity="0.6" stroke-width="0.9" stroke-linejoin="round"/>
<clipPath id="e21"><polygon points="519.1,618.8 522.4,614.3 522.9,610 526.2,609.2 527.4,611.8 531.2,610.5 537.5,608 541.6,608 541.6,610.7 537.5,612.5 532.5,613.8 528.7,616.3 523.6,618.8"/></clipPath>
<g clip-path="url(#e21)">
<polygon points="519.1,618.8 522.4,614.3 522.9,610 526.2,609.2 527.4,611.8 531.2,610.5 537.5,608 541.6,608 541.6,610.7 537.5,612.5 532.5,613.8 528.7,616.3 523.6,618.8" fill="#F6ECA2"/>
<g filter="url(#b1)">
<ellipse cx="530.6" cy="613" rx="6.3" ry="1.5" transform="rotate(-22 530.6 613)" fill="#EF8C4C"/>
<ellipse cx="530" cy="613.3" rx="3" ry="1" transform="rotate(-22 530 613.3)" fill="#EE7844"/>
<ellipse cx="521.4" cy="617.1" rx="1.5" ry="1.3" fill="#DAE692"/>
</g></g>
<polygon points="519.1,618.8 522.4,614.3 522.9,610 526.2,609.2 527.4,611.8 531.2,610.5 537.5,608 541.6,608 541.6,610.7 537.5,612.5 532.5,613.8 528.7,616.3 523.6,618.8" fill="none" stroke="#9CCB8E" stroke-opacity="0.6" stroke-width="0.9" stroke-linejoin="round"/>
<circle cx="167.4" cy="518.4" r="3.2" fill="#F0C864"/>
</g>
</g>
<path d="M671.5 472.8 L676 477.3 L671.5 481.8 L667 477.3 Z" fill="#000"/>
<g stroke="#000" stroke-width="2" fill="none">
<rect x="148" y="72" width="800" height="800"/>
<line x1="330.6" y1="873" x2="330.6" y2="883"/>
<line x1="602" y1="873" x2="602" y2="883"/>
<line x1="873.4" y1="873" x2="873.4" y2="883"/>
<line x1="137" y1="105.8" x2="147" y2="105.8"/>
<line x1="137" y1="283.35" x2="147" y2="283.35"/>
<line x1="137" y1="460.9" x2="147" y2="460.9"/>
<line x1="137" y1="638.45" x2="147" y2="638.45"/>
<line x1="137" y1="816" x2="147" y2="816"/>
</g>
<text transform="translate(331 915) scale(1 1.06)" text-anchor="middle">−108</text>
<text transform="translate(602.4 915) scale(1 1.06)" text-anchor="middle">−107</text>
<text transform="translate(873.8 915) scale(1 1.06)" text-anchor="middle">−106</text>
<text transform="translate(128 116.4) scale(1 1.06)" text-anchor="end">41.5</text>
<text transform="translate(128 293.95) scale(1 1.06)" text-anchor="end">41.0</text>
<text transform="translate(128 471.5) scale(1 1.06)" text-anchor="end">40.5</text>
<text transform="translate(128 649.05) scale(1 1.06)" text-anchor="end">40.0</text>
<text transform="translate(128 826.6) scale(1 1.06)" text-anchor="end">39.5</text>
<text transform="translate(548 952.7) scale(1 1.06)" text-anchor="middle">Longitude</text>
<text transform="translate(58.2 471.7) rotate(-90) scale(1 1.06)" text-anchor="middle">Latitude</text>
<text class="ttl" transform="translate(548 57.8) scale(1 1.06)" text-anchor="middle">SEA-POL 20250204 1317-1319 UTC Composite Reflectivity</text>
<g shape-rendering="crispEdges">
<rect x="984" y="857" width="24" height="15" fill="#000000"/>
<rect x="984" y="843" width="24" height="14" fill="#0C0A10"/>
<rect x="984" y="828" width="24" height="15" fill="#16121E"/>
<rect x="984" y="814" width="24" height="14" fill="#201A2E"/>
<rect x="984" y="799" width="24" height="15" fill="#28223A"/>
<rect x="984" y="785" width="24" height="14" fill="#2E2646"/>
<rect x="984" y="770" width="24" height="15" fill="#382F57"/>
<rect x="984" y="756" width="24" height="14" fill="#3F3665"/>
<rect x="984" y="741" width="24" height="15" fill="#473C73"/>
<rect x="984" y="727" width="24" height="14" fill="#504684"/>
<rect x="984" y="712" width="24" height="15" fill="#5A4C96"/>
<rect x="984" y="697" width="24" height="15" fill="#6254A4"/>
<rect x="984" y="683" width="24" height="14" fill="#645EB0"/>
<rect x="984" y="668" width="24" height="15" fill="#5A6EBA"/>
<rect x="984" y="654" width="24" height="14" fill="#487CBE"/>
<rect x="984" y="639" width="24" height="15" fill="#3E8ABA"/>
<rect x="984" y="625" width="24" height="14" fill="#4298B1"/>
<rect x="984" y="610" width="24" height="15" fill="#4DA5A5"/>
<rect x="984" y="596" width="24" height="14" fill="#5CB09C"/>
<rect x="984" y="581" width="24" height="15" fill="#70BA98"/>
<rect x="984" y="567" width="24" height="14" fill="#86C496"/>
<rect x="984" y="552" width="24" height="15" fill="#9CCE94"/>
<rect x="984" y="537" width="24" height="15" fill="#B2D690"/>
<rect x="984" y="523" width="24" height="14" fill="#C8DE8E"/>
<rect x="984" y="508" width="24" height="15" fill="#DAE692"/>
<rect x="984" y="494" width="24" height="14" fill="#E8F0A0"/>
<rect x="984" y="479" width="24" height="15" fill="#F7F9AF"/>
<rect x="984" y="465" width="24" height="14" fill="#FCFAB4"/>
<rect x="984" y="450" width="24" height="15" fill="#F6ECA2"/>
<rect x="984" y="436" width="24" height="14" fill="#F4DE8E"/>
<rect x="984" y="421" width="24" height="15" fill="#F2CE7E"/>
<rect x="984" y="407" width="24" height="14" fill="#F2BE6E"/>
<rect x="984" y="392" width="24" height="15" fill="#F0AE62"/>
<rect x="984" y="377" width="24" height="15" fill="#F09E56"/>
<rect x="984" y="363" width="24" height="14" fill="#EF8C4C"/>
<rect x="984" y="348" width="24" height="15" fill="#EE7844"/>
<rect x="984" y="334" width="24" height="14" fill="#E96640"/>
<rect x="984" y="319" width="24" height="15" fill="#E05440"/>
<rect x="984" y="305" width="24" height="14" fill="#D44048"/>
<rect x="984" y="290" width="24" height="15" fill="#C83248"/>
<rect x="984" y="276" width="24" height="14" fill="#BA2048"/>
<rect x="984" y="261" width="24" height="15" fill="#AC1246"/>
<rect x="984" y="247" width="24" height="14" fill="#9C004A"/>
<rect x="984" y="232" width="24" height="15" fill="#AC1A68"/>
<rect x="984" y="217" width="24" height="15" fill="#C42A7C"/>
<rect x="984" y="203" width="24" height="14" fill="#D64090"/>
<rect x="984" y="188" width="24" height="15" fill="#E066A8"/>
<rect x="984" y="174" width="24" height="14" fill="#E080B4"/>
<rect x="984" y="159" width="24" height="15" fill="#DE9CD0"/>
<rect x="984" y="145" width="24" height="14" fill="#AB82C0"/>
<rect x="984" y="130" width="24" height="15" fill="#9D6BB0"/>
<rect x="984" y="116" width="24" height="14" fill="#8C4F9E"/>
<rect x="984" y="101" width="24" height="15" fill="#682276"/>
<rect x="984" y="87" width="24" height="14" fill="#541060"/>
<rect x="984" y="72" width="24" height="15" fill="#40004E"/>
</g>
<g stroke="#000" stroke-width="2" fill="none">
<rect x="984" y="72" width="24" height="800"/>
<line x1="1009" y1="872" x2="1019" y2="872"/>
<line x1="1009" y1="799.27" x2="1019" y2="799.27"/>
<line x1="1009" y1="726.55" x2="1019" y2="726.55"/>
<line x1="1009" y1="653.82" x2="1019" y2="653.82"/>
<line x1="1009" y1="581.09" x2="1019" y2="581.09"/>
<line x1="1009" y1="508.36" x2="1019" y2="508.36"/>
<line x1="1009" y1="435.64" x2="1019" y2="435.64"/>
<line x1="1009" y1="362.91" x2="1019" y2="362.91"/>
<line x1="1009" y1="290.18" x2="1019" y2="290.18"/>
<line x1="1009" y1="217.45" x2="1019" y2="217.45"/>
<line x1="1009" y1="144.73" x2="1019" y2="144.73"/>
<line x1="1009" y1="72" x2="1019" y2="72"/>
</g>
<text transform="translate(1025.5 882.4) scale(1 1.06)">−10</text>
<text transform="translate(1025.5 809.67) scale(1 1.06)">−5</text>
<text transform="translate(1025.5 736.95) scale(1 1.06)">0</text>
<text transform="translate(1025.5 664.22) scale(1 1.06)">5</text>
<text transform="translate(1025.5 591.49) scale(1 1.06)">10</text>
<text transform="translate(1025.5 518.76) scale(1 1.06)">15</text>
<text transform="translate(1025.5 446.04) scale(1 1.06)">20</text>
<text transform="translate(1025.5 373.31) scale(1 1.06)">25</text>
<text transform="translate(1025.5 300.58) scale(1 1.06)">30</text>
<text transform="translate(1025.5 227.85) scale(1 1.06)">35</text>
<text transform="translate(1025.5 155.13) scale(1 1.06)">40</text>
<text transform="translate(1025.5 82.4) scale(1 1.06)">45</text>
<text transform="translate(1110.3 472) rotate(-90) scale(1 1.06)" text-anchor="middle">dBZ</text>
</svg>
</body></html>
